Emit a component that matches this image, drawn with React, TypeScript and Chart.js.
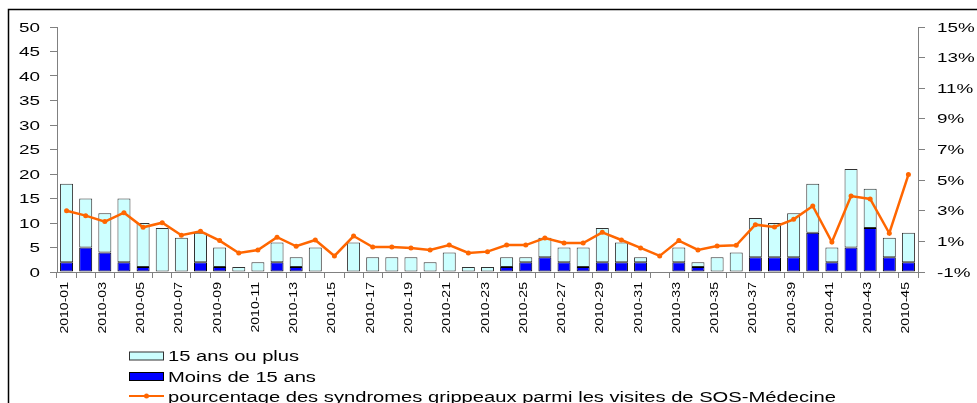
import React, { useEffect, useRef } from "react";
import { Chart, registerables } from "chart.js";

Chart.register(...registerables);

const categories = [
  "2010-01", "2010-02", "2010-03", "2010-04", "2010-05", "2010-06", "2010-07", "2010-08", "2010-09", "2010-10",
  "2010-11", "2010-12", "2010-13", "2010-14", "2010-15", "2010-16", "2010-17", "2010-18", "2010-19", "2010-20",
  "2010-21", "2010-22", "2010-23", "2010-24", "2010-25", "2010-26", "2010-27", "2010-28", "2010-29", "2010-30",
  "2010-31", "2010-32", "2010-33", "2010-34", "2010-35", "2010-36", "2010-37", "2010-38", "2010-39", "2010-40",
  "2010-41", "2010-42", "2010-43", "2010-44", "2010-45",
];

// "Moins de 15 ans" (bottom, blue)
const moins15 = [
  2, 5, 4, 2, 1, 0, 0, 2, 1, 0,
  0, 2, 1, 0, 0, 0, 0, 0, 0, 0,
  0, 0, 0, 1, 2, 3, 2, 1, 2, 2,
  2, 0, 2, 1, 0, 0, 3, 3, 3, 8,
  2, 5, 9, 3, 2,
];

// "15 ans ou plus" (top, light cyan)
const plus15 = [
  16, 10, 8, 13, 9, 9, 7, 6, 4, 1,
  2, 4, 2, 5, 0, 6, 3, 3, 3, 2,
  4, 1, 1, 2, 1, 4, 3, 4, 7, 4,
  1, 0, 3, 1, 3, 4, 8, 7, 9, 10,
  3, 16, 8, 4, 6,
];

// pourcentage des syndromes grippeaux (%)
const pourcentage = [
  3.0, 2.68, 2.29, 2.87, 1.92, 2.22, 1.4, 1.66, 1.05, 0.24,
  0.44, 1.27, 0.68, 1.09, 0.05, 1.35, 0.63, 0.63, 0.57, 0.44,
  0.76, 0.24, 0.33, 0.76, 0.76, 1.22, 0.89, 0.89, 1.59, 1.09,
  0.57, 0.05, 1.05, 0.44, 0.7, 0.74, 2.09, 1.94, 2.44, 3.31,
  0.96, 3.96, 3.77, 1.53, 5.36,
];

const legendLabels = [
  "15 ans ou plus",
  "Moins de 15 ans",
  "pourcentage des syndromes grippeaux parmi les visites de SOS-Médecine",
];

const FONT = "'Liberation Sans', Arial, sans-serif";
const CYAN = "#CCFFFF";
const BLUE = "#0000FF";
const ORANGE = "#FF6600";
const AXIS = "#808080";

function stretchText(
  ctx: CanvasRenderingContext2D,
  text: string,
  x: number,
  y: number,
  align: CanvasTextAlign,
  size: number,
  sx: number,
  rotate = false
) {
  ctx.save();
  ctx.translate(x, y);
  if (rotate) ctx.rotate(-Math.PI / 2);
  ctx.scale(sx, 1);
  ctx.font = `${size}px ${FONT}`;
  ctx.fillStyle = "#000";
  ctx.textAlign = align;
  ctx.textBaseline = "alphabetic";
  ctx.fillText(text, 0, 0);
  ctx.restore();
}

const textPlugin = {
  id: "stretchedText",
  afterDraw(chart: any) {
    const ctx: CanvasRenderingContext2D = chart.ctx;
    const xs = chart.scales.x;
    const ys = chart.scales.y;
    const y1 = chart.scales.y1;

    // outer frame (top & left)
    ctx.save();
    ctx.strokeStyle = "#000";
    ctx.lineWidth = 1.5;
    ctx.beginPath();
    ctx.moveTo(8.5, 403);
    ctx.lineTo(8.5, 9.5);
    ctx.lineTo(977, 9.5);
    ctx.stroke();
    ctx.restore();

    // left axis labels
    ys.ticks.forEach((t: any) => {
      stretchText(ctx, String(t.value), 40, ys.getPixelForValue(t.value) + 4.6, "right", 13, 1.45);
    });
    // right axis labels
    y1.ticks.forEach((t: any) => {
      stretchText(ctx, `${t.value}%`, 937, y1.getPixelForValue(t.value) + 4.6, "left", 13, 1.45);
    });
    // category labels (every other)
    categories.forEach((c, i) => {
      if (i % 2 !== 0) return;
      const cx = xs.getPixelForValue(i);
      stretchText(ctx, c, cx + 1, 282, "right", 10.2, 1.38, true);
    });

    // legend
    ctx.save();
    ctx.lineWidth = 1;
    ctx.fillStyle = CYAN;
    ctx.strokeStyle = "#333";
    ctx.fillRect(129.5, 352, 34, 8);
    ctx.strokeRect(129.5, 352, 34, 8);
    ctx.fillStyle = BLUE;
    ctx.strokeStyle = "#000";
    ctx.fillRect(129.5, 372.5, 34, 8);
    ctx.strokeRect(129.5, 372.5, 34, 8);
    ctx.strokeStyle = ORANGE;
    ctx.lineWidth = 2;
    ctx.beginPath();
    ctx.moveTo(129, 396);
    ctx.lineTo(164, 396);
    ctx.stroke();
    ctx.fillStyle = ORANGE;
    ctx.beginPath();
    ctx.arc(146.5, 396, 2.5, 0, Math.PI * 2);
    ctx.fill();
    ctx.restore();
    stretchText(ctx, legendLabels[0], 168, 361, "left", 14, 1.44);
    stretchText(ctx, legendLabels[1], 168, 381.5, "left", 14, 1.44);
    stretchText(ctx, legendLabels[2], 168, 401.5, "left", 14, 1.44);
  },
};

export default function App() {
  const ref = useRef<HTMLCanvasElement>(null);

  useEffect(() => {
    if (!ref.current) return;
    const nz = (a: number[]) => a.map((v) => (v === 0 ? null : v));
    const chart = new Chart(ref.current, {
      type: "bar",
      data: {
        labels: categories,
        datasets: [
          {
            type: "line",
            label: legendLabels[2],
            data: pourcentage,
            yAxisID: "y1",
            borderColor: ORANGE,
            backgroundColor: ORANGE,
            borderWidth: 2.5,
            pointRadius: 2.5,
            pointBorderWidth: 0,
            pointBackgroundColor: ORANGE,
            tension: 0,
          } as any,
          {
            type: "bar",
            label: legendLabels[1],
            data: nz(moins15),
            yAxisID: "y",
            backgroundColor: BLUE,
            borderColor: "#000",
            borderWidth: 1,
            borderSkipped: false,
            barPercentage: 0.68,
            categoryPercentage: 1,
          },
          {
            type: "bar",
            label: legendLabels[0],
            data: nz(plus15),
            yAxisID: "y",
            backgroundColor: CYAN,
            borderColor: "#333",
            borderWidth: 1,
            borderSkipped: false,
            barPercentage: 0.68,
            categoryPercentage: 1,
          },
        ],
      },
      options: {
        responsive: false,
        animation: false,
        layout: { padding: { top: 27, left: 0, right: 0, bottom: 0 } },
        plugins: {
          legend: { display: false },
          tooltip: { enabled: false },
        },
        scales: {
          x: {
            stacked: true,
            offset: true,
            ticks: { display: false },
            grid: {
              offset: true,
              drawOnChartArea: false,
              drawTicks: true,
              tickLength: 6,
              color: AXIS,
            },
            border: { display: true, color: AXIS, width: 1 },
            afterFit(scale: any) {
              scale.height = 131;
            },
          },
          y: {
            stacked: true,
            position: "left",
            min: 0,
            max: 50,
            ticks: { display: false, stepSize: 5 },
            grid: { drawOnChartArea: false, drawTicks: true, tickLength: 7, color: AXIS },
            border: { display: true, color: AXIS, width: 1 },
            afterFit(scale: any) {
              scale.width = 57;
            },
          },
          y1: {
            position: "right",
            min: -1,
            max: 15,
            ticks: { display: false, stepSize: 2 },
            grid: { drawOnChartArea: false, drawTicks: true, tickLength: 7, color: AXIS },
            border: { display: true, color: AXIS, width: 1 },
            afterFit(scale: any) {
              scale.width = 59;
            },
          },
        },
      },
      plugins: [textPlugin],
    });
    return () => chart.destroy();
  }, []);

  return (
    <div
      style={{
        position: "fixed",
        left: 0,
        top: 0,
        width: 977,
        height: 403,
        background: "#fff",
        overflow: "hidden",
      }}
    >
      <canvas ref={ref} width={977} height={403} style={{ display: "block" }} />
    </div>
  );
}
